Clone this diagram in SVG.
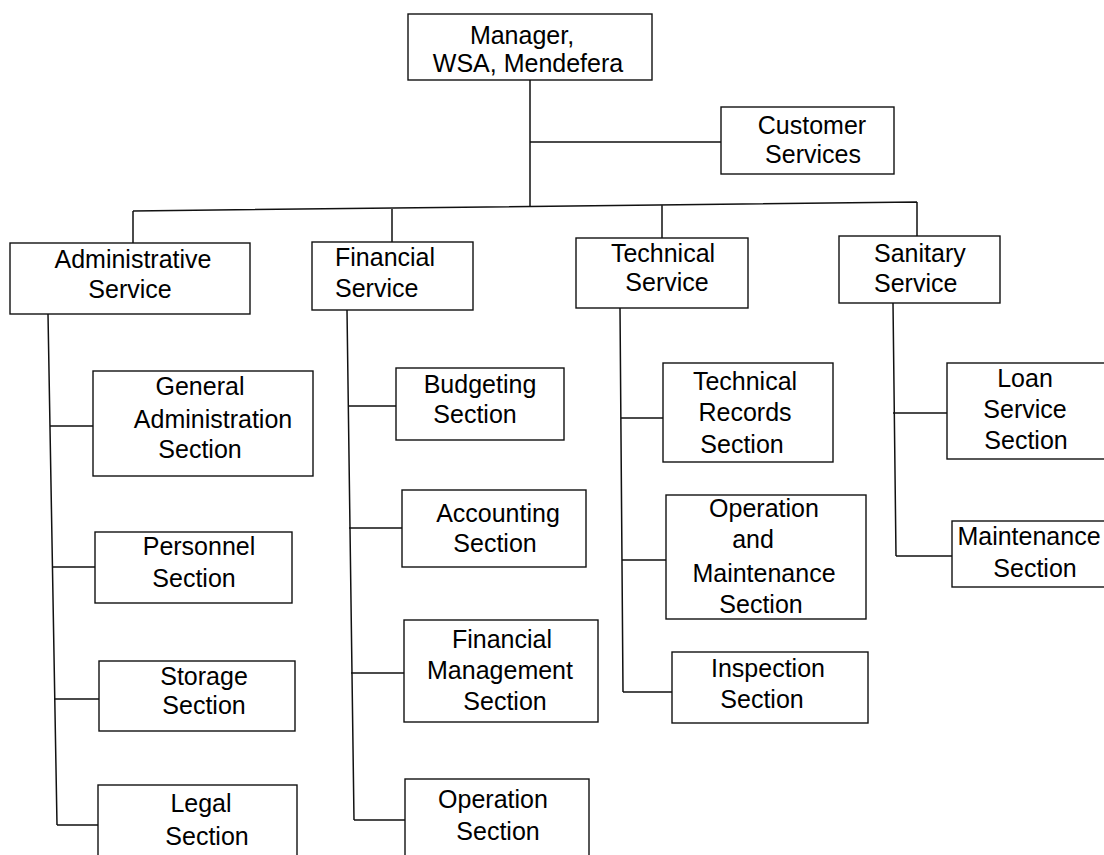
<svg xmlns="http://www.w3.org/2000/svg" width="1104" height="855" viewBox="0 0 1104 855">
<style>
.box{fill:#fff;stroke:#111;stroke-width:1.4}
.ln{fill:none;stroke:#111;stroke-width:1.5}
text{font-family:"Liberation Sans",Arial,sans-serif;font-size:25px;fill:#000;text-anchor:middle}
.l{text-anchor:start}
</style>
<rect width="1104" height="855" fill="#fff"/>
<g id="connectors">
<path class="ln" d="M530,80 L530,207 M530,142 L721,142"/>
<path class="ln" d="M133,211 L917,202 M133,211 L133,243 M392,208 L392,242 M662,205 L662,238 M917,202 L917,236"/>
<path class="ln" d="M48,314 L57,825 M50,426 L93,426 M53,567 L95,567 M54,699 L99,699 M57,825 L98,825"/>
<path class="ln" d="M347,310 L354,820 M348,406 L396,406 M349,528 L402,528 M351,673 L404,673 M354,820 L405,820"/>
<path class="ln" d="M620,308 L623,692 M621,418 L663,418 M622,560 L666,560 M623,692 L672,692"/>
<path class="ln" d="M893,303 L896,556 M893,413 L947,413 M896,556 L952,556"/>
</g>
<g id="manager"><rect class="box" x="408" y="14" width="244" height="66"/><text x="522" y="44">Manager,</text><text x="528" y="72">WSA, Mendefera</text></g>
<g id="customer"><rect class="box" x="721" y="107" width="173" height="67"/><text x="812" y="134">Customer</text><text x="813" y="163">Services</text></g>
<g id="admin"><rect class="box" x="10" y="243" width="240" height="71"/><text x="133" y="268">Administrative</text><text x="130" y="298">Service</text></g>
<g id="financial"><rect class="box" x="312" y="242" width="161" height="68"/><text class="l" x="335" y="266">Financial</text><text class="l" x="335" y="297">Service</text></g>
<g id="technical"><rect class="box" x="576" y="238" width="172" height="70"/><text x="663" y="262">Technical</text><text x="667" y="291">Service</text></g>
<g id="sanitary"><rect class="box" x="839" y="236" width="161" height="67"/><text class="l" x="874" y="262">Sanitary</text><text class="l" x="874" y="292">Service</text></g>
<g id="genadmin"><rect class="box" x="93" y="371" width="220" height="105"/><text x="200" y="395">General</text><text x="213" y="428">Administration</text><text x="200" y="458">Section</text></g>
<g id="personnel"><rect class="box" x="95" y="532" width="197" height="71"/><text x="199" y="555">Personnel</text><text x="194" y="587">Section</text></g>
<g id="storage"><rect class="box" x="99" y="661" width="196" height="70"/><text x="204" y="685">Storage</text><text x="204" y="714">Section</text></g>
<g id="legal"><rect class="box" x="98" y="785" width="199" height="80"/><text x="201" y="812">Legal</text><text x="207" y="845">Section</text></g>
<g id="budgeting"><rect class="box" x="396" y="368" width="168" height="72"/><text x="480" y="393">Budgeting</text><text x="475" y="423">Section</text></g>
<g id="accounting"><rect class="box" x="402" y="490" width="184" height="77"/><text x="498" y="522">Accounting</text><text x="495" y="552">Section</text></g>
<g id="finmgmt"><rect class="box" x="404" y="620" width="194" height="102"/><text x="502" y="648">Financial</text><text x="500" y="679">Management</text><text x="505" y="710">Section</text></g>
<g id="operation"><rect class="box" x="405" y="779" width="184" height="86"/><text x="493" y="808">Operation</text><text x="498" y="840">Section</text></g>
<g id="techrecords"><rect class="box" x="663" y="363" width="170" height="99"/><text x="745" y="390">Technical</text><text x="745" y="421">Records</text><text x="742" y="453">Section</text></g>
<g id="opmaint"><rect class="box" x="666" y="495" width="200" height="124"/><text x="764" y="517">Operation</text><text x="753" y="548">and</text><text x="764" y="582">Maintenance</text><text x="761" y="613">Section</text></g>
<g id="inspection"><rect class="box" x="672" y="652" width="196" height="71"/><text x="768" y="677">Inspection</text><text x="762" y="708">Section</text></g>
<g id="loan"><rect class="box" x="947" y="363" width="170" height="96"/><text x="1025" y="387">Loan</text><text x="1025" y="418">Service</text><text x="1026" y="449">Section</text></g>
<g id="maint"><rect class="box" x="952" y="521" width="165" height="66"/><text x="1029" y="545">Maintenance</text><text x="1035" y="577">Section</text></g>
</svg>
